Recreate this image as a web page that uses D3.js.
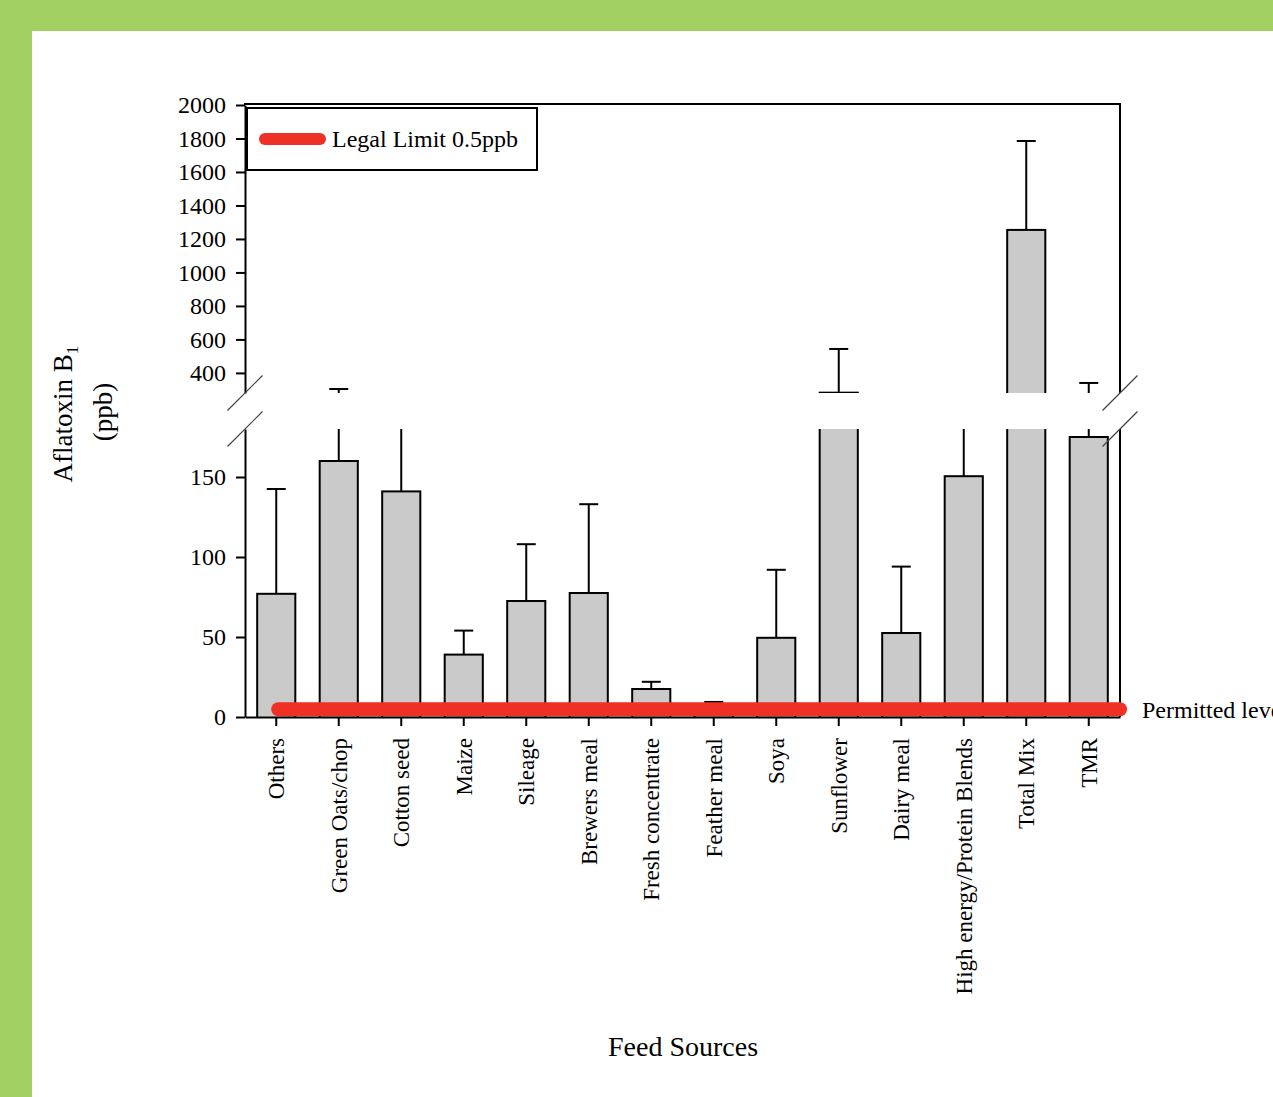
<!DOCTYPE html>
<html>
<head>
<meta charset="utf-8">
<script src="https://cdn.jsdelivr.net/npm/d3@7"></script>
<style>
  body { margin: 0; overflow: hidden; background: #fff; }
  svg { display: block; }
  text { font-family: "Liberation Serif", "Times New Roman", serif; fill: #000; }
</style>
</head>
<body>
<svg id="chart" width="1273" height="1097" font-family="Liberation Serif, Times New Roman, serif"></svg>
<script>
// Aflatoxin B1 by feed source (mean and upper SD, ppb)
const categories = ["Others", "Green Oats/chop", "Cotton seed", "Maize", "Sileage", "Brewers meal",
  "Fresh concentrate", "Feather meal", "Soya", "Sunflower", "Dairy meal",
  "High energy/Protein Blends", "Total Mix", "TMR"];
const means = [77, 160, 141, 39, 72.5, 77.5, 17.5, 5, 49.5, 282, 52.5, 150.5, 1254, 175];
const upperSD = [65.5, 144, 94, 15, 35.5, 55.5, 4.5, 4.4, 42.5, 261, 41.5, 74.5, 531, 165];
const lowerTicks = [0, 50, 100, 150];
const upperTicks = [400, 600, 800, 1000, 1200, 1400, 1600, 1800, 2000];
const lowerDomain = [0, 180];
const upperDomain = [280, 2000];
const legalLimit = 0.5;

const SERIF = "Liberation Serif, Times New Roman, serif";
const svg = d3.select("#chart");
const W = 1273, H = 1097;

// page frame
svg.append("rect").attr("width", W).attr("height", H).attr("fill", "#fff");
svg.append("rect").attr("x", 0).attr("y", 0).attr("width", W).attr("height", 31).attr("fill", "#a2d063");
svg.append("rect").attr("x", 0).attr("y", 0).attr("width", 32).attr("height", H).attr("fill", "#a2d063");

const left = 245, right = 1120;
const x = d3.scaleBand().domain(categories).range([left, right]).paddingInner(0.39).paddingOuter(0.195);
const yLow = d3.scaleLinear().domain(lowerDomain).range([717, 429]);
const yUp = d3.scaleLinear().domain(upperDomain).range([393, 105]);

const defs = svg.append("defs");
defs.append("clipPath").attr("id", "clipLow").append("rect")
  .attr("x", left - 5).attr("y", yLow(lowerDomain[1])).attr("width", right - left + 10)
  .attr("height", yLow(lowerDomain[0]) - yLow(lowerDomain[1]));
defs.append("clipPath").attr("id", "clipUp").append("rect")
  .attr("x", left - 5).attr("y", yUp(upperDomain[1]) - 5).attr("width", right - left + 10)
  .attr("height", yUp(upperDomain[0]) - yUp(upperDomain[1]) + 5);

const data = categories.map((c, i) => ({ c, m: means[i], top: means[i] + upperSD[i] }));
const bw = x.bandwidth();
const capW = 19;

function drawSegment(y, clipId) {
  const g = svg.append("g").attr("clip-path", `url(#${clipId})`);
  const base = y(y.domain()[0]) + 6;
  g.selectAll("rect.bar").data(data.filter(d => y(d.m) < base)).join("rect")
    .attr("class", "bar")
    .attr("x", d => x(d.c)).attr("width", bw)
    .attr("y", d => y(d.m)).attr("height", d => base - y(d.m))
    .attr("fill", "#cacaca").attr("stroke", "#000").attr("stroke-width", 2);
  const eb = g.selectAll("g.err").data(data.filter(d => d.top > d.m)).join("g").attr("class", "err");
  eb.append("line")
    .attr("x1", d => x(d.c) + bw / 2).attr("x2", d => x(d.c) + bw / 2)
    .attr("y1", d => Math.min(y(d.m), base)).attr("y2", d => y(d.top))
    .attr("stroke", "#000").attr("stroke-width", 2);
  eb.append("line")
    .attr("x1", d => x(d.c) + bw / 2 - capW / 2).attr("x2", d => x(d.c) + bw / 2 + capW / 2)
    .attr("y1", d => y(d.top)).attr("y2", d => y(d.top))
    .attr("stroke", "#000").attr("stroke-width", 2);
}
drawSegment(yLow, "clipLow");
drawSegment(yUp, "clipUp");

// axes
function styleAxis(g) {
  g.attr("font-family", SERIF).attr("font-size", 24);
  g.selectAll("path.domain").attr("stroke", "#000").attr("stroke-width", 2);
  g.selectAll(".tick line").attr("stroke", "#000").attr("stroke-width", 2);
  g.selectAll(".tick text").attr("font-family", SERIF).attr("font-size", 24).attr("fill", "#000");
}
svg.append("g").attr("transform", `translate(${left},0)`)
  .call(d3.axisLeft(yLow).tickValues(lowerTicks).tickSize(9).tickSizeOuter(0).tickPadding(10))
  .call(styleAxis);
svg.append("g").attr("transform", `translate(${left},0)`)
  .call(d3.axisLeft(yUp).tickValues(upperTicks).tickSize(9).tickSizeOuter(0).tickPadding(10).tickFormat(d3.format("d")))
  .call(styleAxis);

// right-hand frame and top border
const frame = svg.append("g").attr("stroke", "#000").attr("stroke-width", 2);
frame.append("line").attr("x1", right).attr("x2", right).attr("y1", yLow(lowerDomain[0])).attr("y2", yLow(lowerDomain[1]));
frame.append("line").attr("x1", right).attr("x2", right).attr("y1", yUp(upperDomain[0])).attr("y2", yUp(upperDomain[1]) - 1);
frame.append("line").attr("x1", left - 1).attr("x2", right + 1).attr("y1", yUp(upperDomain[1]) - 1).attr("y2", yUp(upperDomain[1]) - 1);

// axis break marks
const breaks = [];
[left, right].forEach(bx => {
  breaks.push([bx, yUp(upperDomain[0])]);
  breaks.push([bx, yLow(lowerDomain[1])]);
});
svg.append("g").selectAll("line").data(breaks).join("line")
  .attr("x1", d => d[0] - 17.5).attr("y1", d => d[1] + 17.5)
  .attr("x2", d => d[0] + 17.5).attr("y2", d => d[1] - 17.5)
  .attr("stroke", "#444").attr("stroke-width", 1.2);

// permitted level band
const limitY = yLow(legalLimit) - 7;
svg.append("line")
  .attr("x1", x(categories[0]) + bw / 2 + 2).attr("x2", right)
  .attr("y1", limitY).attr("y2", limitY)
  .attr("stroke", "#ee3124").attr("stroke-width", 14).attr("stroke-linecap", "round");

// x axis
const xAxis = svg.append("g").attr("transform", `translate(0,${yLow(0)})`)
  .call(d3.axisBottom(x).tickSize(9).tickSizeOuter(0).tickFormat(""));
xAxis.selectAll("path.domain").attr("stroke", "#000").attr("stroke-width", 2);
xAxis.selectAll(".tick line").attr("stroke", "#000").attr("stroke-width", 2);

svg.append("g").selectAll("text").data(categories).join("text")
  .attr("transform", d => `translate(${x(d) + bw / 2},738) rotate(-90)`)
  .attr("text-anchor", "end").attr("dy", "0.35em")
  .attr("font-family", SERIF).attr("font-size", 23).text(d => d);

svg.append("text").attr("x", 1142).attr("y", 718)
  .attr("font-family", SERIF).attr("font-size", 24).text("Permitted level");

// legend
svg.append("rect").attr("x", 247).attr("y", 108).attr("width", 290).attr("height", 62)
  .attr("fill", "#fff").attr("stroke", "#000").attr("stroke-width", 2);
svg.append("line").attr("x1", 265).attr("x2", 320).attr("y1", 139).attr("y2", 139)
  .attr("stroke", "#ee3124").attr("stroke-width", 12).attr("stroke-linecap", "round");
svg.append("text").attr("x", 332).attr("y", 139).attr("dy", "0.35em")
  .attr("font-family", SERIF).attr("font-size", 24)
  .text(`Legal Limit ${legalLimit}ppb`);

// axis titles
const yt = svg.append("text").attr("transform", "translate(72,414) rotate(-90)")
  .attr("text-anchor", "middle").attr("font-family", SERIF).attr("font-size", 27);
yt.append("tspan").text("Aflatoxin B");
yt.append("tspan").attr("dy", 6).attr("font-size", 17).text("1");
svg.append("text").attr("transform", "translate(112,412) rotate(-90)")
  .attr("text-anchor", "middle").attr("font-family", SERIF).attr("font-size", 27).text("(ppb)");

svg.append("text").attr("x", 683).attr("y", 1056).attr("text-anchor", "middle")
  .attr("font-family", SERIF).attr("font-size", 28).text("Feed Sources");
</script>
</body>
</html>
